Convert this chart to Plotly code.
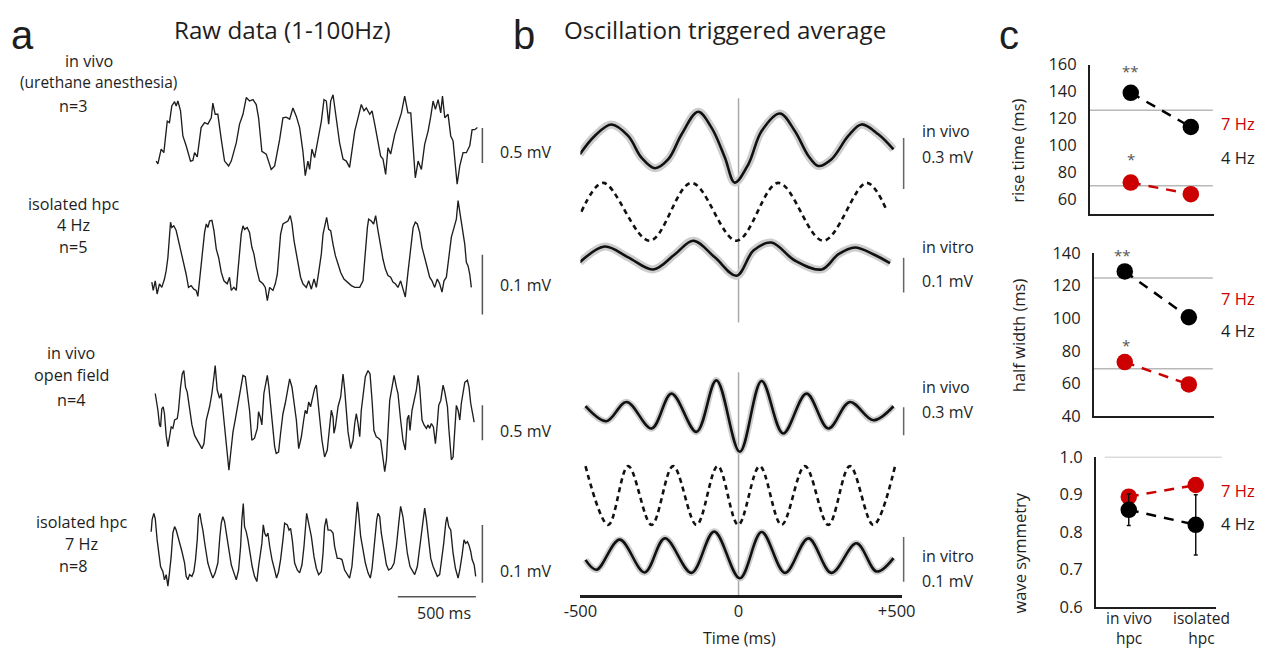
import plotly.graph_objects as go

W, H = 1270, 661
# the photographed page shows the figure slightly shrunk about its centre; positions below are
# given in picture pixels and mapped back to paper coordinates here
OX, SX, OY, SY = 15.9, 0.975, 10.6, 0.968
def fx(x): return (x - OX) / SX / W
def fy(y): return 1 - (y - OY) / SY / H

FONT = "Open Sans, Liberation Sans, sans-serif"
INK = "#1e1e1e"
RED = "#cc0000"

# ---------------- Panel a : raw traces (time in ms, voltage in mV) ----------------
a1_t = [0,11,32,49,71,85,100,118,128,139,156,171,192,220,235,246,263,288,310,331,353,363,378,395,417,438,464,481,513,534,556,577,598,620,641,656,677,705,737,759,791,812,833,855,876,898,919,940,955,972,983,998,1015,1036,1058,1075,1090,1105,1118,1133,1154,1175,1197,1218,1239,1254,1272,1293,1314,1331,1346,1368,1383,1400,1421,1438,1453,1470,1485,1502,1528,1549,1571,1592,1613,1631,1646,1660,1678,1699,1720,1742,1759,1774,1789,1806,1823,1834,1849,1870,1887,1902,1917,1928,1945,1966,1987,2009,2024,2041,2058]
a1_v = [-0.43,-0.47,-0.26,-0.31,0.14,0.12,0.36,0.42,0.36,0.43,0.29,-0.07,-0.21,-0.43,-0.42,-0.31,-0.37,0.05,0.12,0.10,0.19,0.40,0.24,0.24,-0.12,-0.43,-0.50,-0.43,-0.17,0.10,0.24,0.48,0.43,0.45,0.38,0.19,-0.29,-0.33,-0.55,-0.50,-0.12,0.19,0.20,0.17,0.33,0.21,0.05,-0.29,-0.64,-0.43,-0.55,-0.26,-0.38,-0.10,0.14,0.45,0.43,0.10,0.43,0.52,0.19,-0.17,-0.40,-0.43,-0.52,-0.31,0.00,0.19,0.38,0.29,0.33,0.24,0.29,0.10,-0.19,-0.36,-0.40,-0.62,-0.24,-0.33,-0.05,0.12,0.26,0.50,0.26,0.26,-0.24,-0.67,-0.43,-0.55,-0.19,0.00,0.21,0.43,0.31,0.45,0.26,0.50,0.19,0.24,-0.07,-0.14,-0.50,-0.76,-0.50,-0.31,-0.31,-0.21,0.02,0.02,0.05]

a2_t = [-28,-19,-6,6,21,36,53,64,75,85,92,100,113,128,143,160,177,192,207,224,241,256,267,278,288,299,310,321,331,342,357,370,385,400,417,434,455,470,481,498,513,524,534,545,556,566,583,598,613,626,641,662,684,699,712,727,748,763,776,784,797,812,827,844,859,870,883,898,913,925,940,962,977,994,1011,1026,1041,1058,1069,1083,1092,1105,1118,1133,1148,1165,1182,1203,1224,1250,1272,1304,1325,1340,1353,1361,1378,1393,1406,1421,1438,1453,1468,1485,1502,1517,1532,1549,1566,1581,1596,1613,1631,1646,1660,1673,1688,1703,1720,1737,1752,1767,1784,1801,1816,1831,1844,1859,1874,1891,1908,1923,1934,1945,1960,1977,1987,1998,2009,2019]
a2_v = [-0.044,-0.058,-0.042,-0.064,-0.047,-0.053,-0.039,-0.025,-0.003,0.025,0.056,0.047,0.05,0.042,0.025,0.008,-0.011,-0.031,-0.053,-0.05,-0.056,-0.058,-0.068,-0.042,-0.019,0.017,0.039,0.053,0.047,0.058,0.059,0.042,0.011,-0.003,-0.028,-0.042,-0.047,-0.036,-0.058,-0.053,-0.058,-0.025,0.008,0.036,0.05,0.044,0.047,0.039,0.014,0.003,-0.019,-0.042,-0.047,-0.053,-0.075,-0.053,-0.058,-0.047,-0.031,-0.003,0.036,0.053,0.056,0.058,0.067,0.053,0.025,0.003,-0.019,-0.036,-0.047,-0.053,-0.042,-0.056,-0.039,-0.053,-0.028,0.003,0.036,0.056,0.064,0.044,0.042,0.019,0.0,-0.014,-0.028,-0.039,-0.044,-0.05,-0.053,-0.053,-0.042,0.008,0.047,0.061,0.058,0.053,0.067,0.042,0.014,-0.006,-0.022,-0.033,-0.036,-0.044,-0.047,-0.053,-0.042,-0.058,-0.069,-0.028,0.008,0.047,0.056,0.053,0.039,0.014,-0.003,-0.022,-0.036,-0.042,-0.053,-0.039,-0.047,-0.061,-0.042,-0.036,-0.003,0.031,0.047,0.061,0.092,0.072,0.047,0.019,-0.011,-0.017,-0.031,-0.053]

a3_t = [-6,0,11,21,28,36,45,53,64,75,85,96,107,118,135,143,156,167,177,188,199,214,229,246,263,278,293,306,321,342,357,370,378,391,406,417,427,438,455,466,477,492,506,524,541,556,571,583,598,613,630,648,656,667,677,690,701,712,722,733,748,759,769,784,797,812,827,844,855,870,883,898,913,930,945,955,966,977,989,1004,1015,1026,1036,1047,1062,1079,1096,1111,1122,1133,1139,1148,1165,1182,1197,1207,1218,1229,1246,1261,1272,1282,1293,1304,1314,1325,1340,1357,1370,1383,1395,1410,1425,1438,1447,1464,1475,1485,1496,1511,1524,1539,1549,1566,1581,1596,1609,1618,1626,1639,1652,1667,1678,1688,1703,1716,1731,1742,1752,1763,1776,1789,1801,1810,1823,1838,1849,1866,1874,1891,1902,1913,1923,1934,1945,1955,1966,1977,1994,2004,2015,2024,2037]
a3_v = [0.34,0.27,0.10,-0.11,-0.14,0.12,0.15,0.05,-0.26,-0.42,-0.28,-0.14,-0.16,-0.04,-0.02,0.10,0.43,0.62,0.67,0.43,0.36,0.15,-0.11,-0.26,-0.33,-0.40,-0.45,-0.38,-0.04,0.15,0.34,0.58,0.74,0.39,0.27,0.34,0.10,-0.19,-0.52,-0.76,-0.52,-0.21,-0.04,0.20,0.43,0.60,0.58,0.39,0.10,-0.33,-0.30,-0.16,0.08,0.00,-0.11,0.34,0.46,0.60,0.43,0.20,-0.14,-0.42,-0.52,-0.50,-0.23,0.05,0.20,0.43,0.55,0.43,0.24,-0.04,-0.45,-0.28,-0.04,0.10,0.05,0.22,0.15,0.29,0.41,0.46,0.24,-0.04,-0.33,-0.57,-0.47,-0.14,0.10,0.00,-0.23,-0.14,0.15,0.29,0.62,0.41,0.03,-0.21,-0.45,-0.33,-0.09,0.05,-0.09,-0.28,0.10,0.29,0.58,0.67,0.62,0.24,-0.19,-0.28,-0.30,-0.33,-0.52,-0.78,-0.61,-0.23,0.24,0.43,0.60,0.43,0.34,-0.04,-0.33,-0.47,-0.02,0.03,-0.19,0.10,0.22,0.39,0.60,0.43,-0.04,-0.11,-0.16,-0.11,-0.16,-0.09,-0.14,-0.38,-0.09,0.17,0.24,0.46,0.36,0.15,-0.14,-0.61,-0.57,-0.19,0.17,0.10,-0.04,0.20,0.36,0.50,0.53,0.43,0.20,0.10,-0.07]

a4_t = [-32,-26,-15,-6,6,15,28,43,53,64,75,85,96,107,118,128,139,150,165,182,192,203,214,229,241,252,263,271,280,288,299,314,331,348,363,378,395,408,417,427,438,449,464,481,498,513,528,541,549,558,566,577,588,600,615,630,645,656,669,677,686,695,705,716,727,742,759,771,784,797,812,823,840,851,861,872,887,904,919,934,947,955,964,972,983,994,1011,1026,1041,1058,1069,1079,1090,1101,1118,1133,1143,1160,1175,1190,1207,1225,1239,1254,1267,1278,1289,1297,1310,1325,1340,1357,1372,1383,1400,1413,1421,1432,1442,1460,1475,1489,1507,1524,1539,1554,1566,1581,1592,1609,1626,1645,1656,1673,1688,1699,1712,1720,1731,1742,1759,1774,1789,1801,1816,1827,1842,1855,1863,1874,1887,1902,1917,1934,1945,1960,1972,1983,1994,2004,2015,2024,2037,2047]
a4_v = [0.026,0.047,0.058,0.049,0.012,-0.011,-0.034,-0.043,-0.057,-0.048,-0.068,-0.045,-0.017,0.024,0.035,0.029,0.018,0.009,-0.008,-0.028,-0.051,-0.057,-0.048,-0.051,-0.043,-0.022,0.012,0.052,0.058,0.044,0.029,0.001,-0.028,-0.043,-0.054,-0.045,-0.028,0.018,0.041,0.052,0.044,0.024,-0.005,-0.031,-0.045,-0.057,-0.040,0.001,0.047,0.075,0.035,0.026,0.012,-0.011,-0.034,-0.051,-0.060,-0.034,-0.011,0.006,0.038,0.024,0.018,0.024,0.001,-0.022,-0.040,-0.054,-0.043,-0.022,0.012,0.041,0.038,0.029,0.032,0.012,-0.028,-0.040,-0.045,-0.031,0.001,0.032,0.058,0.047,0.035,0.018,-0.017,-0.037,-0.048,-0.043,-0.011,0.035,0.049,0.029,0.029,0.024,0.001,-0.020,-0.020,-0.022,-0.040,-0.048,-0.054,-0.034,0.012,0.052,0.078,0.058,0.018,-0.005,-0.028,-0.045,-0.054,-0.037,0.012,0.047,0.058,0.052,0.024,-0.011,-0.031,-0.040,-0.037,-0.028,0.001,0.041,0.070,0.052,0.029,-0.011,-0.034,-0.043,-0.048,-0.034,0.001,0.029,0.052,0.067,0.047,0.018,-0.020,-0.034,-0.045,-0.051,-0.048,-0.028,0.006,0.041,0.052,0.035,0.029,-0.011,-0.037,-0.054,-0.040,-0.014,0.012,0.006,0.009,0.003,-0.008,-0.022,-0.031,-0.051]

a_labels = [["in vivo", "(urethane anesthesia)", "n=3"],
            ["isolated hpc", "4 Hz", "n=5"],
            ["in vivo", "open field", "n=4"],
            ["isolated hpc", "7 Hz", "n=8"]]
a_scale_mV = [0.5, 0.1, 0.5, 0.1]

# ---------------- Panel b : oscillation triggered averages (ms, mV) ----------------
b_vivo4_t = [-502,-455,-402,-349,-307,-265,-222,-180,-128,-85,-43,-12,31,73,131,178,221,252,294,347,389,442,490]
b_vivo4_v = [-0.037,0.071,0.139,0.071,-0.057,-0.119,-0.066,0.081,0.214,0.119,-0.057,-0.204,-0.096,0.100,0.204,0.100,-0.047,-0.106,-0.066,0.071,0.139,0.081,-0.008]
b_sine4_t = [-497,-428,-281,-149,-6,126,268,405,468]
b_sine4_v = [0,1,-1,1,-1,1,-1,1,0.06]
b_vitro4_t = [-502,-423,-349,-270,-201,-143,-75,-6,47,104,178,263,316,368,426,479]
b_vitro4_v = [-0.008,0.027,0.003,-0.024,0.010,0.040,0.003,-0.038,0.018,0.036,-0.004,-0.024,0.010,0.025,0.010,-0.010]
b_vivo7_t = [-484,-418,-354,-275,-212,-133,-70,4,73,141,215,284,352,426,490]
b_vivo7_v = [0.086,-0.075,0.132,-0.153,0.222,-0.190,0.364,-0.404,0.357,-0.207,0.222,-0.153,0.132,-0.064,0.086]
b_sine7_t = [-484,-412,-349,-275,-207,-133,-66,-1,67,136,210,284,352,426,495]
b_sine7_v = [1,-1,1,-1,1,-1,1,-1,1,-1,1,-1,1,-1,1]
b_vitro7_t = [-484,-449,-376,-297,-233,-149,-77,4,73,147,221,294,373,437,490]
b_vitro7_v = [-0.009,-0.031,0.036,-0.037,0.039,-0.038,0.054,-0.050,0.053,-0.038,0.039,-0.038,0.028,-0.035,-0.005]
b_ticks = [-500, 0, 500]
b_ticktext = ["-500", "0", "+500"]

# ---------------- Panel c : summary ----------------
groups = ["in vivo<br>hpc", "isolated<br>hpc"]
gx = [1, 2]
rise_4hz = [139.0, 113.6]
rise_7hz = [72.3, 63.7]
rise_ref = [126.1, 69.9]
half_4hz = [128.7, 100.6]
half_7hz = [73.1, 59.4]
half_ref = [124.7, 69.0]
sym_4hz = [0.859, 0.819]
sym_4hz_err = [0.042, 0.08]
sym_7hz = [0.894, 0.925]
sym_ref = [1.0]
rise_ticks = [60, 80, 100, 120, 140, 160]
half_ticks = [40, 60, 80, 100, 120, 140]
sym_ticks = [0.6, 0.7, 0.8, 0.9, 1.0]
sym_ticktext = ["0.6", "0.7", "0.8", "0.9", "1.0"]

fig = go.Figure()
L = dict(width=W, height=H, margin=dict(l=0, r=0, t=0, b=0),
         paper_bgcolor="white", plot_bgcolor="rgba(0,0,0,0)",
         showlegend=False, font=dict(family=FONT, color=INK))
shapes, anns = [], []

def ann(text, x, y, size=15, color=INK, xanchor="center", angle=0, yanchor="middle",
        ypaper=None, family=FONT, pad=1):
    anns.append(dict(text=text, x=fx(x), y=fy(y) if ypaper is None else ypaper,
                     xref="paper", yref="paper", showarrow=False, borderpad=pad,
                     xanchor=xanchor, yanchor=yanchor, textangle=angle,
                     font=dict(size=size, color=color, family=family)))

def hidden_y(c, s, top, bot, anchor):
    return dict(domain=[fy(bot), fy(top)], range=[(c - bot) / s, (c - top) / s],
                anchor=anchor, visible=False, fixedrange=True)

# ---- panel a axes
L["xaxis"] = dict(domain=[fx(140), fx(490)], range=[(140 - 155) / 0.156, (490 - 155) / 0.156],
                  anchor="y", visible=False)
a_geom = [(130, 70, 80, 190), (255, 600, 190, 320), (417, 70, 355, 485), (547, 580, 495, 605)]
a_data = [(a1_t, a1_v), (a2_t, a2_v), (a3_t, a3_v), (a4_t, a4_v)]
a_bar_top = [127, 254, 405, 525]
a_label_y = [(60, 81, 105), (203, 224, 246), (353, 375, 400), (522, 544, 566)]
a_label_x = [(88, 97, 72), (72, 72, 72), (70, 70, 70), (80, 80, 72)]
a_scale_text_y = [151, 284, 431, 571]
for i, ((c, s, top, bot), (t, v)) in enumerate(zip(a_geom, a_data)):
    name = "yaxis" if i == 0 else f"yaxis{i+1}"
    yref = "y" if i == 0 else f"y{i+1}"
    L[name] = hidden_y(c, s, top, bot, "x")
    fig.add_trace(go.Scatter(x=t, y=v, xaxis="x", yaxis=yref, mode="lines",
                             line=dict(color=INK, width=1.35), hoverinfo="skip"))
    v0 = (c - a_bar_top[i]) / s
    shapes.append(dict(type="line", xref="paper", yref=yref, x0=fx(481), x1=fx(481),
                       y0=v0, y1=v0 - a_scale_mV[i], line=dict(color="#555", width=1.5)))
    ann(f"{a_scale_mV[i]} mV", 497, a_scale_text_y[i], 16, xanchor="left")
    for txt, lx, ly in zip(a_labels[i], a_label_x[i], a_label_y[i]):
        ann(txt, lx, ly, 15.5 if txt.startswith("(") else 16.2)
shapes.append(dict(type="line", xref="x", yref="paper", x0=1548, x1=2048, y0=fy(597), y1=fy(597),
                   line=dict(color="#555", width=1.5)))
ann("500 ms", 443, 613, 16)

# ---- panel b axes
L["xaxis2"] = dict(domain=[fx(579), fx(900)], range=[-500, 515.8], anchor="free", position=fy(596),
                   showline=True, linecolor=INK, linewidth=2.5, tickvals=b_ticks, ticktext=b_ticktext,
                   ticks="", showgrid=False, zeroline=False, tickfont=dict(size=16.5, color=INK))
b_geom = [(147, 170, 90, 205), (211, 29, 176, 246), (258, 450, 226, 292),
          (414, 93.3, 368, 462), (495.5, 29.5, 460, 531), (556, 450, 520, 592)]
b_data = [(b_vivo4_t, b_vivo4_v, "solid"), (b_sine4_t, b_sine4_v, "dash"), (b_vitro4_t, b_vitro4_v, "solid"),
          (b_vivo7_t, b_vivo7_v, "solid"), (b_sine7_t, b_sine7_v, "dash"), (b_vitro7_t, b_vitro7_v, "solid")]
for j, ((c, s, top, bot), (t, v, kind)) in enumerate(zip(b_geom, b_data)):
    k = 5 + j
    L[f"yaxis{k}"] = hidden_y(c, s, top, bot, "x2")
    if kind == "solid":
        fig.add_trace(go.Scatter(x=t, y=v, xaxis="x2", yaxis=f"y{k}", mode="lines",
                                 line=dict(color="#cdcdcd", width=8 if j < 3 else 6.5, shape="spline"),
                                 hoverinfo="skip"))
        fig.add_trace(go.Scatter(x=t, y=v, xaxis="x2", yaxis=f"y{k}", mode="lines",
                                 line=dict(color="#111", width=2.6, shape="spline"), hoverinfo="skip"))
    else:
        fig.add_trace(go.Scatter(x=t, y=v, xaxis="x2", yaxis=f"y{k}", mode="lines",
                                 line=dict(color="#111", width=2.6, shape="spline", dash="5px,4px"),
                                 hoverinfo="skip"))
for (y0, y1) in [(97, 322), (372, 596)]:
    shapes.append(dict(type="line", xref="x2", yref="paper", x0=0, x1=0, y0=fy(y0), y1=fy(y1),
                       line=dict(color="#aaaaaa", width=1.5), layer="below"))
b_bars = [(5, 147, 170, 137, 0.3), (7, 258, 450, 257, 0.1), (8, 414, 93.3, 407, 0.3), (10, 556, 450, 537, 0.1)]
for k, c, s, top, mv in b_bars:
    v0 = (c - top) / s
    shapes.append(dict(type="line", xref="paper", yref=f"y{k}", x0=fx(902), x1=fx(902), y0=v0, y1=v0 - mv,
                       line=dict(color="#666", width=1.5)))
for txt, y in [("in vivo", 130), ("0.3 mV", 156), ("in vitro", 246), ("0.1 mV", 280),
               ("in vivo", 387), ("0.3 mV", 412), ("in vitro", 556), ("0.1 mV", 581)]:
    ann(txt, 918, y, 16, xanchor="left")
ann("Time (ms)", 738, 0, 16, yanchor="bottom", ypaper=0.0, pad=0)

# ---- panel c
c_geom = [
    ("x3", "y11", (1088, 1212), (0.317, 2.383), (63.3, 212.7), (49.3, 160), rise_ticks, None),
    ("x4", "y12", (1092, 1212), (0.516, 2.39), (252.3, 416), (39.9, 140), half_ticks, None),
    ("x5", "y13", (1094, 1214), (0.507, 2.30), (456.7, 607.5), (0.6, 1.0), sym_ticks, sym_ticktext),
]
c_series = [(rise_4hz, None, rise_7hz, rise_ref), (half_4hz, None, half_7hz, half_ref),
            (sym_4hz, sym_4hz_err, sym_7hz, sym_ref)]
for (xa, ya, (xl, xr), xrng, (yt, yb), yrng, tv, tt), (blk, blk_err, red, ref) in zip(c_geom, c_series):
    xn = "xaxis" + xa[1:]
    yn = "yaxis" + ya[1:]
    L[xn] = dict(domain=[fx(xl), fx(xr)], range=list(xrng), anchor=ya, showline=True, linecolor=INK,
                 linewidth=1.5, showticklabels=False, ticks="", showgrid=False, zeroline=False, fixedrange=True)
    yd = dict(domain=[fy(yb), fy(yt)], range=list(yrng), anchor=xa, showline=True, linecolor=INK,
              linewidth=1.5, tickvals=tv, ticks="", showgrid=False, zeroline=False,
              tickfont=dict(size=16.5, color=INK), ticklabelstandoff=8, fixedrange=True)
    if tt:
        yd["ticktext"] = tt
    L[yn] = yd
    for r in ref:
        x0, x1 = (xl, xr - 1) if ya != "y13" else (1103, 1220)
        shapes.append(dict(type="line", xref="paper", yref=ya, x0=fx(x0), x1=fx(x1), y0=r, y1=r,
                           line=dict(color="#b8b8b8", width=1.5), layer="below"))
    for vals, col in [(red, RED), (blk, "#000")]:
        fig.add_trace(go.Scatter(x=gx, y=vals, xaxis=xa, yaxis=ya, mode="lines",
                                 line=dict(color=col, width=2.5, dash="10px,8px"), hoverinfo="skip"))
    fig.add_trace(go.Scatter(x=gx, y=red, xaxis=xa, yaxis=ya, mode="markers",
                             marker=dict(color=RED, size=16.5), hoverinfo="skip", cliponaxis=False))
    sc = dict(x=gx, y=blk, xaxis=xa, yaxis=ya, mode="markers",
              marker=dict(color="#000", size=16.5), hoverinfo="skip", cliponaxis=False)
    if blk_err:
        sc["error_y"] = dict(type="data", array=blk_err, color="#111", thickness=1.5, width=2)
    fig.add_trace(go.Scatter(**sc))

for y7, y4 in [(122, 157), (298, 330), (490, 524)]:
    ann("7 Hz", 1236, y7, 16.5, RED)
    ann("4 Hz", 1236, y4, 16.5)
ann("rise time (ms)", 1016, 150, 16.5, angle=-90)
ann("half width (ms)", 1017, 335, 16.5, angle=-90)
ann("wave symmetry", 1018, 553, 16.5, angle=-90)
ann("**", 1129, 70, 15, "#555")
ann("*", 1129, 158, 15, "#555")
ann("**", 1121, 254, 15, "#555")
ann("*", 1124, 345, 15, "#555")
ann(groups[0], 1127, 0, 15.5, yanchor="bottom", ypaper=0.0, pad=0)
ann(groups[1], 1200, 0, 15.5, yanchor="bottom", ypaper=0.0, pad=0)

# titles and panel letters
LETTER_FONT = "Liberation Sans, Arial, sans-serif"
ann("a", 21, 0, 40, yanchor="top", ypaper=1.0, family=LETTER_FONT, pad=0)
ann("Raw data (1-100Hz)", 281, 28, 24.2)
ann("b", 523, 0, 40, yanchor="top", ypaper=1.0, family=LETTER_FONT, pad=0)
ann("Oscillation triggered average", 723, 28, 24.2)
ann("c", 1007, 0, 40, yanchor="top", ypaper=1.0, family=LETTER_FONT, pad=0)

L["shapes"] = shapes
L["annotations"] = anns
fig.update_layout(**L)
fig.write_html("out.html")
